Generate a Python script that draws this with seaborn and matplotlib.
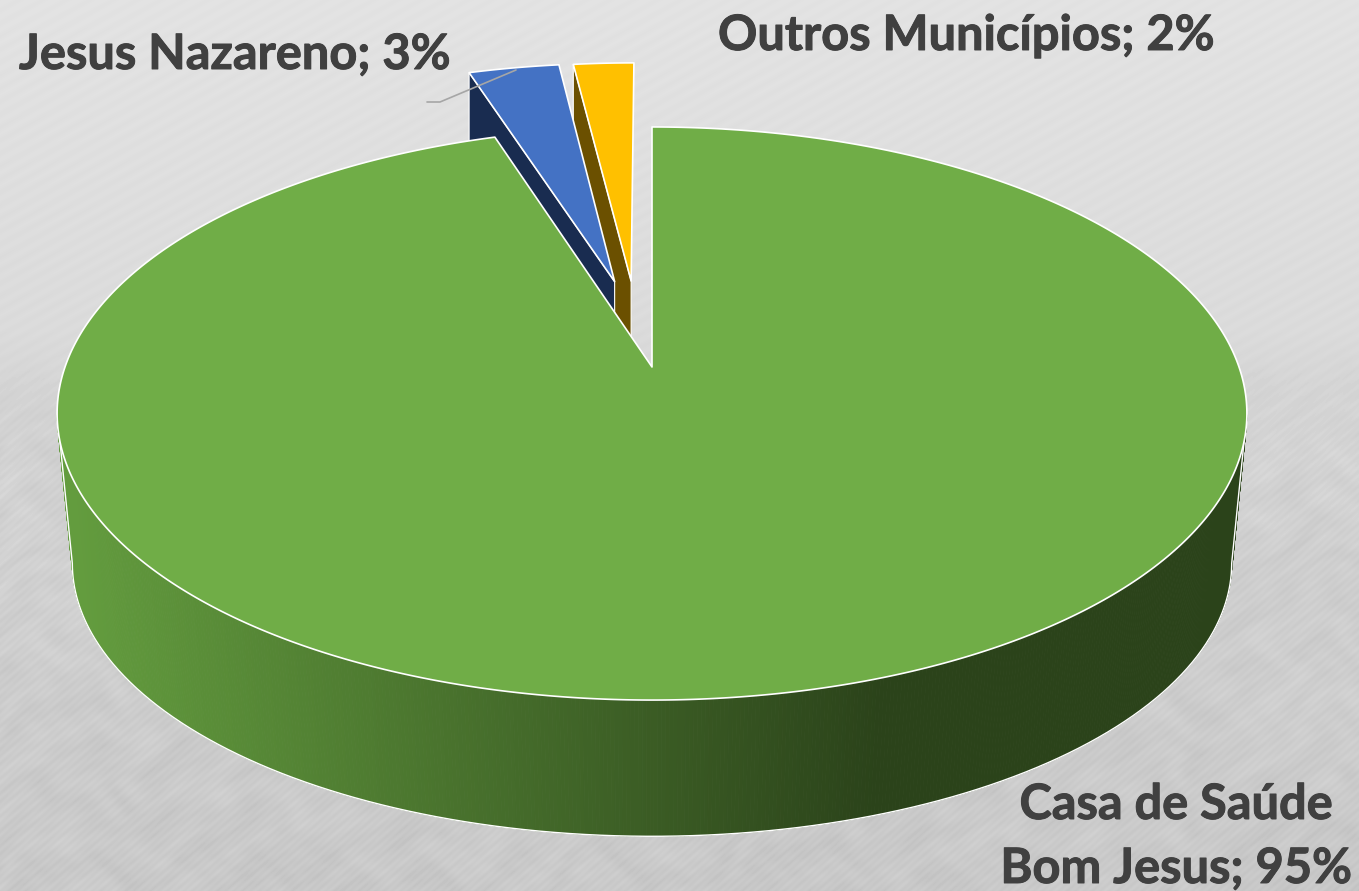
import numpy as np
import matplotlib
matplotlib.use("Agg")
import matplotlib.pyplot as plt
import matplotlib.patheffects as pe
from matplotlib.collections import PolyCollection
import seaborn as sns

# ---- data ----
categories = ["Casa de Saúde\nBom Jesus", "Jesus Nazareno", "Outros Municípios"]
values = [95, 3, 2]
explode = [0.0, 0.33, 0.325]
nudge_u = [0.0, 0.005, -0.017]
top_colors = ["#70AD47", "#4472C4", "#FFC000"]
side_colors = ["#2B431A", "#192C50", "#6B5000"]

# ---- layout ----
W, H = 1359, 891
CX, TOP_Y, TOP_R, TOP_S = 652, 367, 587, 279
BOT_Y, BOT_R, BOT_S = 519, 572, 265.8
K = 0.1623

sns.set_theme(style="white")
plt.rcParams["font.family"] = ["Lato", "DejaVu Sans"]
fig = plt.figure(figsize=(W / 100, H / 100), dpi=100)
ax = fig.add_axes([0, 0, 1, 1])


def project(u, v, y0=TOP_Y, r=TOP_R, s=TOP_S):
    d = 1 + K * np.asarray(v)
    return CX + r * np.asarray(u) / d, y0 - s * np.asarray(v) / d


# the pie works out every wedge from the values; it is then put in perspective
wedges, _ = ax.pie(values, explode=explode, startangle=90, counterclock=False, radius=1)
geo = [((w.center[0] + n, w.center[1]), w.theta1, w.theta2) for w, n in zip(wedges, nudge_u)]
for w in wedges:
    w.remove()

ax.set_aspect("auto")
ax.set_xlim(0, W)
ax.set_ylim(H, 0)
ax.axis("off")

# background: grey brushed texture
yy, xx = np.mgrid[0:H, 0:W].astype(float)
low = np.clip((yy - 340) / 120, 0, 1)
bg = 226 - 20 * np.clip(yy / 891, 0, 1)
bg -= 6 * np.clip((yy - 330) / 70, 0, 1)
bg += 1.3 * np.sin((xx * 0.55 + yy) * 2 * np.pi / 13)
bg += 2.0 * low * np.sin((xx * 0.9 + yy) * 2 * np.pi / 7.5)
wx = xx + 18 * np.sin(yy / 31) + 9 * np.sin(yy / 11)
wy = yy + 14 * np.sin(xx / 29) + 7 * np.sin(xx / 13)
mott = np.sin(wx / 27 + 2 * np.sin(wy / 23)) * np.sin(wy / 15 + 2 * np.sin(wx / 41))
mott += 0.5 * np.sin(wx / 9 + wy / 14) * np.sin(wy / 8 - wx / 21)
bg += low * 3.2 * mott
ax.imshow(bg, extent=(0, W, H, 0), cmap="gray", vmin=0, vmax=255, aspect="auto",
          interpolation="bilinear", zorder=0)
ax.set_xlim(0, W)
ax.set_ylim(H, 0)

EDGE = dict(edgecolor="white", linewidth=1.2, joinstyle="round")


def rim(center, th1, th2):
    t = np.radians(np.linspace(th1, th2, max(int((th2 - th1) * 4), 8)))
    return center[0] + np.cos(t), center[1] + np.sin(t)


def top_polygon(center, th1, th2):
    u, v = rim(center, th1, th2)
    x, y = project(np.r_[center[0], u], np.r_[center[1], v])
    return np.c_[x, y]


# exploded slices first (their walls run down behind the large slice)
DROP = 170
for i in (2, 1):
    center, th1, th2 = geo[i]
    ox, oy = project(center[0] + np.cos(np.radians(th2)), center[1] + np.sin(np.radians(th2)))
    ax_, ay_ = project(*center)
    ax.fill([ox, ax_, ax_, ox], [oy, ay_, ay_ + DROP, oy + DROP],
            facecolor=side_colors[i], zorder=2, edgecolor="white", linewidth=0.8)
    ax.fill(*top_polygon(center, th1, th2).T, facecolor=top_colors[i], zorder=3, **EDGE)

# wall of the large slice, shaded from left to right
left_limit = np.degrees(np.arcsin(-K))
t = np.radians(np.linspace(180 - left_limit, 360 + left_limit, 500))
u, v = np.cos(t), np.sin(t)
tx, ty = project(u, v)
bx, by = project(u, v, BOT_Y, BOT_R, BOT_S)
quads = [[(tx[j], ty[j]), (tx[j + 1], ty[j + 1]), (bx[j + 1], by[j + 1]), (bx[j], by[j])]
         for j in range(len(t) - 1)]
wall_cmap = sns.blend_palette(["#639C3E", side_colors[0]], n_colors=256, as_cmap=True)
shade = np.clip((tx[:-1] - 70) / (880 - 70), 0, 1)
cols = wall_cmap(shade)
ax.add_collection(PolyCollection(quads, facecolors=cols, edgecolors=cols, linewidths=0.6, zorder=4))
ax.plot(np.r_[tx[0], bx, tx[-1]], np.r_[ty[0], by, ty[-1]], color="white", lw=1.0, zorder=5)

# top of the large slice
center, th1, th2 = geo[0]
ax.fill(*top_polygon(center, th1, th2).T, facecolor=top_colors[0], zorder=6, **EDGE)

# labels
text_kw = dict(color="#404040", fontweight="bold", fontsize=35.1, va="baseline", zorder=8,
               path_effects=[pe.withStroke(linewidth=0.7, foreground="#404040")])
ax.text(19, 69, f"{categories[1]}; {values[1]}%", ha="left", **text_kw)
ax.text(718, 50, f"{categories[2]}; {values[2]}%", ha="left", **text_kw)
line1, line2 = categories[0].split("\n")
ax.text(1176, 819, line1, ha="center", **text_kw)
ax.text(1176, 883, f"{line2}; {values[0]}%", ha="center", **text_kw)

# leader line
ax.plot([516, 440, 427], [70, 102, 102], color="#A6A6A6", lw=1.2, zorder=7)

fig.savefig("out.png", dpi=100)
